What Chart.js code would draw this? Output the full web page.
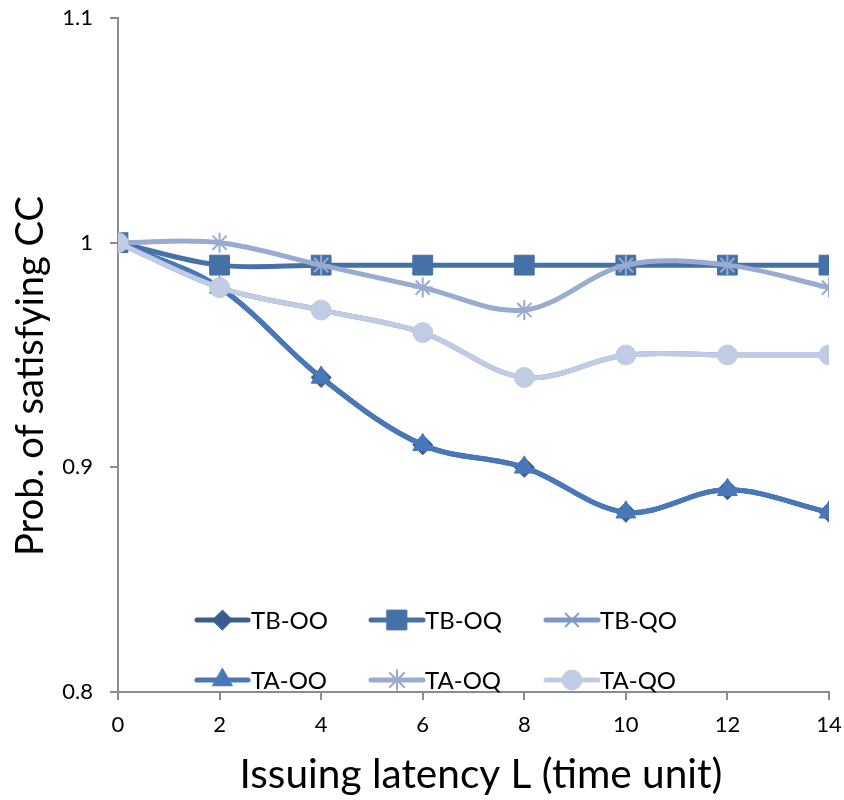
<!DOCTYPE html>
<html>
<head>
<meta charset="utf-8">
<script src="https://cdn.jsdelivr.net/npm/chart.js@4.4.1/dist/chart.umd.min.js"></script>
<style>
  html, body { margin: 0; padding: 0; background: #ffffff; }
  #wrap { width: 844px; height: 800px; }
</style>
</head>
<body>
<div id="wrap"><canvas id="c" width="844" height="800"></canvas></div>
<script>
// ---- data ----
const latencies = [0, 2, 4, 6, 8, 10, 12, 14];
const xTickValues = [0, 2, 4, 6, 8, 10, 12, 14];
const yTickValues = [0.8, 0.9, 1, 1.1];
const yTickLabels = ["0.8", "0.9", "1", "1.1"];
const seriesNames = ["TB-OO", "TB-OQ", "TB-QO", "TA-OO", "TA-OQ", "TA-QO"];
const tbOO = [1, 0.98, 0.94, 0.91, 0.90, 0.88, 0.89, 0.88];
const tbOQ = [1, 0.99, 0.99, 0.99, 0.99, 0.99, 0.99, 0.99];
const tbQO = [1, 0.98, 0.97, 0.96, 0.94, 0.95, 0.95, 0.95];
const taOO = [1, 0.98, 0.94, 0.91, 0.90, 0.88, 0.89, 0.88];
const taOQ = [1, 1.00, 0.99, 0.98, 0.97, 0.99, 0.99, 0.98];
const taQO = [1, 0.98, 0.97, 0.96, 0.94, 0.95, 0.95, 0.95];
const xTitle = "Issuing latency L (time unit)";
const yTitle = "Prob. of satisfying CC";

// ---- styles ----
const colors = ["#3A5E8C", "#4571A8", "#7D97C9", "#4878B8", "#9AABD0", "#C0CCE3"];
const markers = ["rectRot", "rect", "crossRot", "triangle", "star", "circle"];
const radii = [10, 14, 9, 11.5, 10, 10];
const values = [tbOO, tbOQ, tbQO, taOO, taOQ, taQO];
const FONT = "Lato, 'Open Sans', 'DejaVu Sans', sans-serif";

function fitFontSize(text, targetWidth) {
  const m = document.createElement("canvas").getContext("2d");
  m.font = "100px " + FONT;
  return 100 * targetWidth / m.measureText(text).width;
}

const datasets = seriesNames.map((name, i) => ({
  label: name,
  data: latencies.map((x, k) => ({ x: x, y: values[i][k] })),
  borderColor: colors[i],
  backgroundColor: colors[i],
  pointBackgroundColor: colors[i],
  pointBorderColor: colors[i],
  pointStyle: markers[i],
  pointRadius: radii[i],
  pointBorderWidth: (markers[i] === "star" || markers[i] === "crossRot") ? 2 : 1,
  borderWidth: 5,
  tension: 0.35,
  fill: false,
  order: seriesNames.length - i
}));

const customLegend = {
  id: "customLegend",
  afterDraw(chart) {
    const ctx = chart.ctx;
    const cols = [[197, 248, 251], [371, 423, 425], [546, 598, 600]];
    const rows = [620, 680];
    ctx.save();
    const legSize = fitFontSize("TB-OO", 77);
    seriesNames.forEach((name, i) => {
      const c = cols[i % 3], y = rows[Math.floor(i / 3)];
      ctx.strokeStyle = colors[i];
      ctx.lineWidth = 5;
      ctx.lineCap = "round";
      ctx.beginPath();
      ctx.moveTo(c[0], y);
      ctx.lineTo(c[1], y);
      ctx.stroke();
      ctx.fillStyle = colors[i];
      ctx.lineWidth = (markers[i] === "star" || markers[i] === "crossRot") ? 2 : 1;
      Chart.helpers.drawPoint(ctx, { pointStyle: markers[i], radius: radii[i], borderWidth: ctx.lineWidth, rotation: 0 }, (c[0] + c[1]) / 2, y);
      ctx.fillStyle = "#000000";
      ctx.font = legSize.toFixed(1) + "px " + FONT;
      ctx.textBaseline = "middle";
      ctx.textAlign = "left";
      ctx.fillText(name, c[2], y + 1);
    });
    // x-axis title
    ctx.font = fitFontSize(xTitle, 483).toFixed(1) + "px " + FONT;
    ctx.fillStyle = "#000000";
    ctx.textAlign = "center";
    ctx.textBaseline = "alphabetic";
    ctx.fillText(xTitle, 481, 788);
    // y-axis title
    ctx.translate(43, 376);
    ctx.rotate(-Math.PI / 2);
    ctx.font = fitFontSize(yTitle, 360).toFixed(1) + "px " + FONT;
    ctx.textAlign = "center";
    ctx.textBaseline = "alphabetic";
    ctx.fillText(yTitle, 0, 0);
    ctx.restore();
  }
};

new Chart(document.getElementById("c"), {
  type: "line",
  data: { datasets: datasets },
  plugins: [customLegend],
  options: {
    responsive: false,
    animation: false,
    devicePixelRatio: 1,
    layout: { padding: { top: 18, right: 14, left: 0, bottom: 0 } },
    plugins: { legend: { display: false }, tooltip: { enabled: false } },
    scales: {
      x: {
        type: "linear",
        min: 0, max: 14,
        afterBuildTicks: (s) => { s.ticks = xTickValues.map(v => ({ value: v })); },
        afterFit: (s) => { s.height = 108; s.paddingLeft = 0; s.paddingRight = 0; },
        border: { color: "#8C8C8C", width: 2 },
        grid: { display: true, drawOnChartArea: false, drawTicks: true, tickLength: 8, color: "#8C8C8C", lineWidth: 2 },
        ticks: { color: "#000000", font: { family: FONT, size: 22 }, padding: 12, maxRotation: 0 }
      },
      y: {
        type: "linear",
        min: 0.8, max: 1.1,
        afterBuildTicks: (s) => { s.ticks = yTickValues.map(v => ({ value: v })); },
        afterFit: (s) => { s.width = 118; s.paddingTop = 0; s.paddingBottom = 0; },
        border: { color: "#8C8C8C", width: 2 },
        grid: { display: true, drawOnChartArea: false, drawTicks: true, tickLength: 8, color: "#8C8C8C", lineWidth: 2 },
        ticks: {
          color: "#000000", font: { family: FONT, size: 22 }, padding: 17,
          callback: (v) => { const k = yTickValues.findIndex(t => Math.abs(t - v) < 1e-9); return k >= 0 ? yTickLabels[k] : ""; }
        }
      }
    }
  }
});
</script>
</body>
</html>
